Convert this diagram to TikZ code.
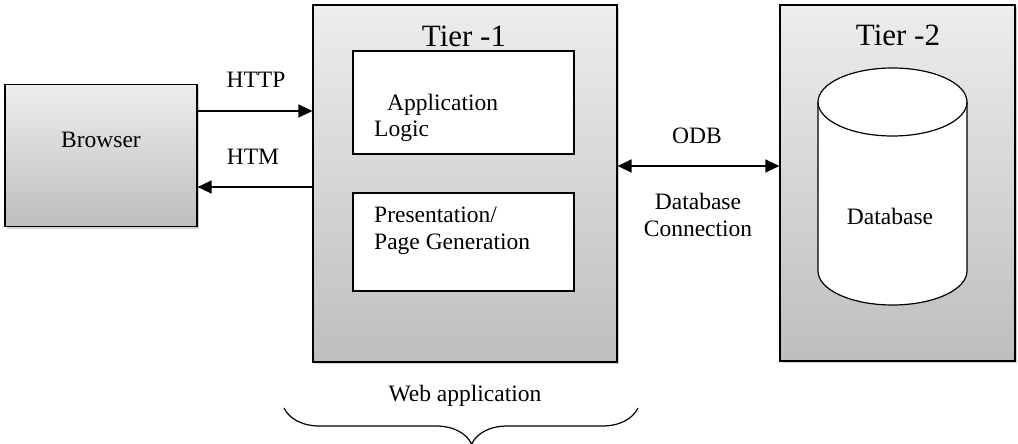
\documentclass[tikz,border=0pt]{standalone}
\usepackage{fontspec}
\setmainfont{Liberation Serif}
\usetikzlibrary{arrows.meta,shadows,decorations.pathreplacing}
\definecolor{tiertop}{RGB}{237,237,237}
\definecolor{tierbottom}{RGB}{190,190,190}

\tikzset{
  tierbox/.style={draw, line width=1.2pt, top color=tiertop, bottom color=tierbottom,
    drop shadow={opacity=0.35, shadow xshift=2pt, shadow yshift=-2pt}, inner sep=0pt},
  innerbox/.style={draw, line width=1.2pt, fill=white, inner sep=0pt},
  lbl/.style={font=\fontsize{23.5}{26.5}\selectfont, inner sep=0pt},
  tiertitle/.style={font=\fontsize{31}{36}\selectfont, inner sep=0pt},
  conn/.style={line width=1.4pt, -{Triangle[length=14pt,width=13pt]}},
  bothconn/.style={line width=1.4pt, {Triangle[length=14pt,width=13pt]}-{Triangle[length=14pt,width=13pt]}},
}

\begin{document}
\begin{tikzpicture}[x=1pt, y=-1pt]
        \useasboundingbox (0,0) rectangle (1018,444);

        % boxes
        \node[tierbox, minimum width=192pt, minimum height=142pt] (browser) at (101,155.5) {};
        \node[tierbox, minimum width=304pt, minimum height=357pt] (tier1) at (465,183.5) {};
        \node[tierbox, minimum width=235pt, minimum height=356pt] (tier2) at (897.5,183) {};
        \node[innerbox, minimum width=221pt, minimum height=103pt] (applogic) at (463.5,102.5) {};
        \node[innerbox, minimum width=221pt, minimum height=98pt] (pagegen) at (463.5,242) {};

        % database cylinder
        \draw[line width=1.2pt, fill=white] (818,102) -- (818,271)
                arc[start angle=180, end angle=360, x radius=74.5pt, y radius=34pt] -- (967,102)
                arc[start angle=0, end angle=180, x radius=74.5pt, y radius=34pt] -- cycle;
        \draw[line width=1.2pt] (818,102) arc[start angle=180, end angle=360, x radius=74.5pt, y radius=34pt];

        % texts
        \node[lbl] (browsertxt) at (101,140) {Browser};
        \node[tiertitle] (tier1txt) at (464,36) {Tier -1};
        \node[tiertitle] (tier2txt) at (898,35) {Tier -2};
        \node[lbl, anchor=west, align=left] (applogictxt) at (374,118) {\hspace*{13pt}Application\\Logic};
        \node[lbl, anchor=west, align=left] (pagegentxt) at (374,231) {Presentation/\\Page Generation};
        \node[lbl] (dbtxt) at (890,216) {Database};
        \node[lbl] (httptxt) at (256,80) {HTTP};
        \node[lbl] (htmtxt) at (253,157) {HTM};
        \node[lbl] (odbtxt) at (697,136) {ODB};
        \node[lbl, align=center] (conntxt) at (698,215) {Database\\Connection};
        \node[lbl] (webtxt) at (465,396) {Web application};

        % connectors
        \draw[conn] ([yshift=44.5pt]browser.east) -- ([yshift=44.5pt]browser.east -| tier1.west);
        \draw[conn] ([yshift=-31.5pt]browser.east -| tier1.west) -- ([yshift=-31.5pt]browser.east);
        \draw[bothconn] ([yshift=17.5pt]tier1.east) -- ([yshift=17.5pt]tier1.east -| tier2.west);

        % brace under tier 1
        \coordinate (braceleft) at (284,408);
        \coordinate (braceright) at (638,408);
        \draw[line width=1.2pt, decorate, decoration={brace, mirror, amplitude=36pt, aspect=0.53}] (braceleft) -- (braceright);
\end{tikzpicture}
\end{document}
